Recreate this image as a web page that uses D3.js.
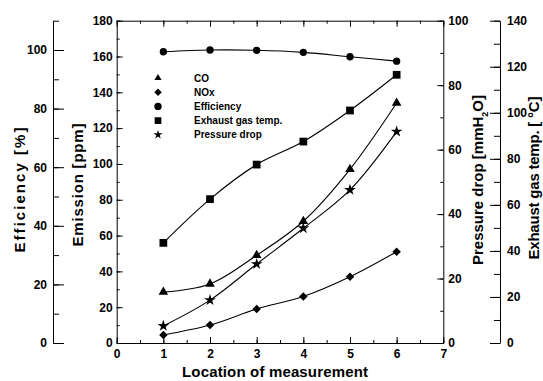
<html lang="en">
<head>
  <meta charset="UTF-8">
  <title>Emission, efficiency, exhaust temp and pressure drop</title>
  <style>
    body { margin: 0; background: #fff; }
    text { font-family: "Liberation Sans", Arial, sans-serif; font-weight: bold; fill: #000; }
    .domain, .tick line { stroke: #000; stroke-width: 1; }
  </style>
</head>
<body>
  <div class="canvas"></div>

  <script src="https://cdnjs.cloudflare.com/ajax/libs/d3/7.8.5/d3.min.js"></script>
  <script>
// data
const locations = [1, 2, 3, 4, 5, 6];
const coValues = [28.5, 33, 49, 68, 97, 134];            // ppm
const noxValues = [4.5, 10, 19, 26, 37, 51];             // ppm
const efficiencyValues = [99.4, 100, 99.9, 99.2, 97.7, 96.2]; // %
const exhaustTempValues = [43.5, 62.5, 77.5, 87.5, 101, 116.5]; // deg C
const pressureDropValues = [5.3, 13.3, 24.5, 35.6, 47.5, 65.6]; // mmH2O

const xTicks = [0, 1, 2, 3, 4, 5, 6, 7];
const emissionTicks = [0, 20, 40, 60, 80, 100, 120, 140, 160, 180];
const efficiencyTicks = [0, 20, 40, 60, 80, 100];
const pressureTicks = [0, 20, 40, 60, 80, 100];
const exhaustTicks = [0, 20, 40, 60, 80, 100, 120, 140];

const legendNames = ['CO', 'NOx', 'Efficiency', 'Exhaust gas temp.', 'Pressure drop'];

// svg + plot box
const svg = d3.select('.canvas')
  .append('svg')
    .attr('width', 543)
    .attr('height', 381);

const plot = {left: 116.7, right: 443.3, top: 20.7, bottom: 343};

const x = d3.scaleLinear().domain([0, 7]).range([plot.left, plot.right]);
const yEmission = d3.scaleLinear().domain([0, 180]).range([plot.bottom, plot.top]);
const yEfficiency = d3.scaleLinear().domain([0, 110]).range([plot.bottom, plot.top]);
const yPressure = d3.scaleLinear().domain([0, 100]).range([plot.bottom, plot.top]);
const yExhaust = d3.scaleLinear().domain([0, 140]).range([plot.bottom, plot.top]);

// helper: major axis with labels + minor ticks without
function addAxis(axisFn, scale, majors, minors, pos, opt) {
  const g = svg.append('g').attr('transform', pos);
  g.call(axisFn(scale)
    .tickValues(minors)
    .tickSizeInner(opt.minor)
    .tickSizeOuter(0)
    .tickFormat(''));
  const gm = svg.append('g').attr('transform', pos);
  gm.call(axisFn(scale)
    .tickValues(majors)
    .tickSizeInner(opt.major)
    .tickSizeOuter(0)
    .tickPadding(opt.pad)
    .tickFormat(d3.format('d')));
  gm.select('.domain').remove();
  gm.selectAll('text').style('font-size', '12px').style('font-family', '"Liberation Sans", Arial, sans-serif');
  return gm;
}

const halfSteps = d3.range(0, 7.01, 0.5);
addAxis(d3.axisBottom, x, xTicks, halfSteps, `translate(0, ${plot.bottom})`, {major: -6, minor: -3, pad: 6});
addAxis(d3.axisTop, x, xTicks, halfSteps, `translate(0, ${plot.top})`, {major: -6, minor: -3, pad: 6})
  .selectAll('text').remove();

addAxis(d3.axisLeft, yEmission, emissionTicks, d3.range(0, 181, 10), `translate(${plot.left}, 0)`, {major: -6, minor: -3, pad: 4});
addAxis(d3.axisRight, yPressure, pressureTicks, d3.range(0, 101, 10), `translate(${plot.right}, 0)`, {major: -6, minor: -3, pad: 5});

// the two outer axes
addAxis(d3.axisLeft, yEfficiency, efficiencyTicks, d3.range(0, 111, 10), 'translate(53, 0)', {major: -11, minor: -6, pad: 6});
addAxis(d3.axisRight, yExhaust, exhaustTicks, d3.range(0, 141, 10), 'translate(500, 0)', {major: -10, minor: -6, pad: 7});

svg.selectAll('.domain').attr('fill', 'none');

// axis titles (lengths matched to the picture)
const titleSize = '15px';
svg.append('text')
  .attr('x', 275).attr('y', 377)
  .attr('text-anchor', 'middle')
  .attr('textLength', 186)
  .style('font-size', titleSize)
  .text('Location of measurement');

function vTitle(cx, cy, label, len) {
  return svg.append('text')
    .attr('transform', `translate(${cx}, ${cy}) rotate(-90)`)
    .attr('text-anchor', 'middle')
    .attr('dy', '0.35em')
    .attr('textLength', len)
    .style('font-size', titleSize)
    .text(label);
}
vTitle(20, 190, 'Efficiency [%]', 125);
vTitle(78, 185, 'Emission [ppm]', 123);
const pt = vTitle(478, 180, 'Pressure drop [mmH', null).attr('textLength', null);
pt.append('tspan').attr('baseline-shift', 'sub').style('font-size', '9px').text('2');
pt.append('tspan').text('O]');
vTitle(534, 178, 'Exhaust gas temp. [ \u00B0C]', 163);

// lines + markers
const series = [
  {name: 'CO', values: coValues, y: yEmission, symbol: d3.symbolTriangle, size: 40, rot: 0},
  {name: 'NOx', values: noxValues, y: yEmission, symbol: d3.symbolSquare, size: 36, rot: 45},
  {name: 'Efficiency', values: efficiencyValues, y: yEfficiency, symbol: d3.symbolCircle, size: 42, rot: 0},
  {name: 'Exhaust gas temp.', values: exhaustTempValues, y: yExhaust, symbol: d3.symbolSquare, size: 60, rot: 0},
  {name: 'Pressure drop', values: pressureDropValues, y: yPressure, symbol: d3.symbolStar, size: 42, rot: 0}
];

series.forEach(s => {
  const pts = locations.map((loc, i) => [x(loc), s.y(s.values[i])]);
  svg.append('path')
    .attr('d', d3.line().curve(d3.curveCatmullRom.alpha(0.5))(pts))
    .attr('fill', 'none')
    .attr('stroke', '#000')
    .attr('stroke-width', 1.1);
  svg.selectAll(null)
    .data(pts)
    .enter()
    .append('path')
      .attr('d', d3.symbol().type(s.symbol).size(s.size))
      .attr('transform', d => `translate(${d[0]}, ${d[1]}) rotate(${s.rot})`)
      .attr('fill', '#000');
});

// legend
const legend = svg.append('g').attr('transform', 'translate(158, 78)');
const legendSizes = [22, 28, 42, 45, 25];
legendNames.forEach((name, i) => {
  const s = series[i];
  legend.append('path')
    .attr('d', d3.symbol().type(s.symbol).size(legendSizes[i]))
    .attr('transform', `translate(0, ${i * 14.2}) rotate(${s.rot})`)
    .attr('fill', '#000');
  legend.append('text')
    .attr('x', 36)
    .attr('y', i * 14.2)
    .attr('dy', '0.35em')
    .style('font-size', '10px')
    .text(name);
});
  </script>
</body>
</html>
